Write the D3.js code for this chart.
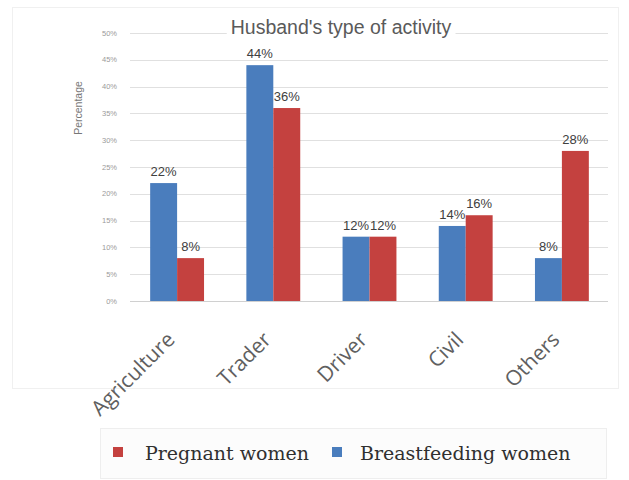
<!DOCTYPE html>
<html>
<head>
<meta charset="utf-8">
<script src="https://cdn.jsdelivr.net/npm/d3@7"></script>
<style>
  html, body { margin: 0; padding: 0; background: #fff; }
  svg { display: block; }
</style>
</head>
<body>
<svg id="chart" width="629" height="480"></svg>
<script>
// Husband's type of activity, by group of women
const categories = ["Agriculture", "Trader", "Driver", "Civil", "Others"];
const breastfeeding = [22, 44, 12, 14, 8];
const pregnant = [8, 36, 12, 16, 28];
const yTicks = [0, 5, 10, 15, 20, 25, 30, 35, 40, 45, 50];
const seriesNames = ["Pregnant women", "Breastfeeding women"];

const BLUE = "#4a7dbd";
const RED = "#c4413f";

const svg = d3.select("#chart");

// faint frame around the chart area
svg.append("rect")
  .attr("x", 12.5).attr("y", 7.5).attr("width", 606).attr("height", 381)
  .attr("fill", "none").attr("stroke", "#f0f0f0");

const x = d3.scaleBand().domain(categories).range([129, 610])
  .paddingInner(0.44).paddingOuter(0.22);
const x1 = d3.scaleBand().domain(["b", "p"]).range([0, x.bandwidth()]);
const y = d3.scaleLinear().domain([0, 50]).range([301, 33]);

// gridlines
svg.append("g").selectAll("line").data(yTicks).join("line")
  .attr("x1", 130).attr("x2", 608)
  .attr("y1", d => Math.round(y(d)) + 0.5).attr("y2", d => Math.round(y(d)) + 0.5)
  .attr("stroke", d => d === 0 ? "#d0d0d0" : "#e0e0e0").attr("stroke-width", 1);

// y tick labels
svg.append("g").selectAll("text").data(yTicks).join("text")
  .attr("x", 117).attr("y", d => y(d) + 2.5)
  .attr("text-anchor", "end")
  .attr("font-family", "Liberation Sans, Arial, sans-serif")
  .attr("font-size", 7.5).attr("fill", "#9a9a9a")
  .text(d => d + "%");

// y axis title
svg.append("text")
  .attr("transform", "translate(82,108) rotate(-90)")
  .attr("text-anchor", "middle")
  .attr("font-family", "Liberation Sans, Arial, sans-serif")
  .attr("font-size", 10.5).attr("fill", "#777")
  .text("Percentage");

// bars
const rows = categories.map((c, i) => ({ c, b: breastfeeding[i], p: pregnant[i] }));
const groups = svg.append("g").selectAll("g").data(rows).join("g")
  .attr("transform", d => `translate(${x(d.c)},0)`);

groups.append("rect")
  .attr("x", x1("b")).attr("width", x1.bandwidth())
  .attr("y", d => y(d.b)).attr("height", d => y(0) - y(d.b))
  .attr("fill", BLUE);
groups.append("rect")
  .attr("x", x1("p")).attr("width", x1.bandwidth())
  .attr("y", d => y(d.p)).attr("height", d => y(0) - y(d.p))
  .attr("fill", RED);

// value labels
const labelFont = "Liberation Sans, Arial, sans-serif";
groups.append("text")
  .attr("x", x1("b") + x1.bandwidth() / 2).attr("y", d => y(d.b) - 7)
  .attr("text-anchor", "middle").attr("font-family", labelFont)
  .attr("font-size", 13).attr("fill", "#404040")
  .text(d => d.b + "%");
groups.append("text")
  .attr("x", x1("p") + x1.bandwidth() / 2).attr("y", d => y(d.p) - 7)
  .attr("text-anchor", "middle").attr("font-family", labelFont)
  .attr("font-size", 13).attr("fill", "#404040")
  .text(d => d.p + "%");

// category labels, slanted
svg.append("g").selectAll("text").data(categories).join("text")
  .attr("transform", d => `translate(${x(d) + x.bandwidth() / 2 - 1},341) rotate(-45)`)
  .attr("text-anchor", "end")
  .attr("font-family", "Open Sans, sans-serif")
  .attr("font-size", 21).attr("fill", "#606060")
  .text(d => d);

// title with a white backing over the top gridline
const titleG = svg.append("g");
const title = titleG.append("text")
  .attr("x", 341).attr("y", 34)
  .attr("text-anchor", "middle")
  .attr("font-family", "Liberation Sans, Arial, sans-serif")
  .attr("font-size", 19.5).attr("fill", "#5a5a5a")
  .text("Husband's type of activity");
const tb = title.node().getBBox();
titleG.insert("rect", () => title.node())
  .attr("x", tb.x - 4).attr("y", tb.y).attr("width", tb.width + 8).attr("height", tb.height)
  .attr("fill", "#fff");

// legend
const legend = svg.append("g");
legend.append("rect")
  .attr("x", 100.5).attr("y", 428.5).attr("width", 506).attr("height", 50)
  .attr("fill", "#fcfcfc").attr("stroke", "#eeeeee");
const legendItems = [
  { name: seriesNames[0], color: RED, sx: 113, tx: 145 },
  { name: seriesNames[1], color: BLUE, sx: 332, tx: 360 }
];
legend.selectAll("rect.sw").data(legendItems).join("rect")
  .attr("class", "sw")
  .attr("x", d => d.sx).attr("y", 447).attr("width", 10).attr("height", 10)
  .attr("fill", d => d.color);
legend.selectAll("text").data(legendItems).join("text")
  .attr("x", d => d.tx).attr("y", 460)
  .attr("font-family", "DejaVu Serif, serif")
  .attr("font-size", 19).attr("fill", "#303030")
  .text(d => d.name);
</script>
</body>
</html>
